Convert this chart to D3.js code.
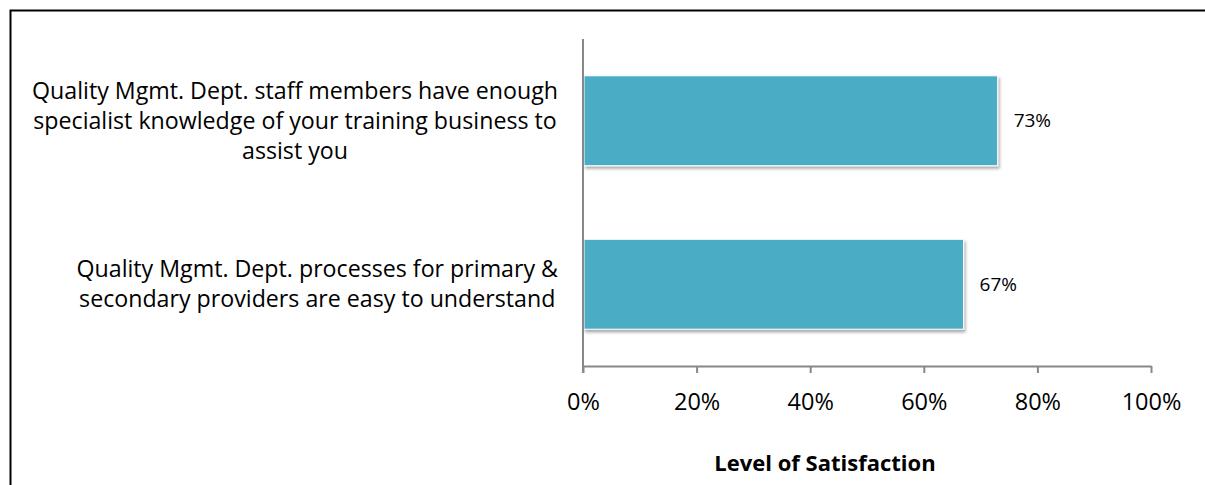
<!DOCTYPE html>
<html>
<head>
<meta charset="utf-8">
<script src="https://cdn.jsdelivr.net/npm/d3@7/dist/d3.min.js"></script>
<style>
  html, body { margin: 0; padding: 0; background: #fff; }
  svg { display: block; }
  text { font-family: "Open Sans", "Liberation Sans", sans-serif; fill: #000; }
</style>
</head>
<body>
<svg id="chart" width="1205" height="485"></svg>
<script>
// Survey statements (each entry is a list of wrapped lines)
const categories = [
  ["Quality Mgmt. Dept. staff members have enough", "specialist knowledge of your training business to", "assist you"],
  ["Quality Mgmt. Dept. processes for primary &", "secondary providers are easy to understand"]
];
// Share of respondents satisfied, percent
const satisfaction = [73, 67];
const tickValues = [0, 20, 40, 60, 80, 100];
const axisTitle = "Level of Satisfaction";

const svg = d3.select("#chart");

// outer frame
svg.append("path")
  .attr("d", "M10.5,485 L10.5,10.5 L1205,10.5")
  .attr("fill", "none").attr("stroke", "#000").attr("stroke-width", 2);

const plot = { left: 583, right: 1151, top: 39, bottom: 366 };

const x = d3.scaleLinear().domain([0, 100]).range([plot.left, plot.right]);
const y = d3.scaleBand()
  .domain(d3.range(categories.length))
  .range([plot.top, plot.bottom])
  .paddingInner(0.45).paddingOuter(0.225);

// drop shadow for bars
const defs = svg.append("defs");
const f = defs.append("filter").attr("id", "shadow")
  .attr("x", "-5%").attr("y", "-10%").attr("width", "115%").attr("height", "130%");
f.append("feDropShadow").attr("dx", 1.5).attr("dy", 2.5).attr("stdDeviation", 1.6)
  .attr("flood-color", "#000").attr("flood-opacity", 0.35);

// bars
svg.append("g").selectAll("rect")
  .data(satisfaction)
  .join("rect")
  .attr("x", x(0) + 1)
  .attr("y", (d, i) => y(i))
  .attr("width", d => x(d) - x(0) - 1)
  .attr("height", y.bandwidth())
  .attr("fill", "#4BACC6")
  .attr("stroke", "#fff").attr("stroke-width", 1)
  .attr("filter", "url(#shadow)");

// value labels
svg.append("g").selectAll("text")
  .data(satisfaction)
  .join("text")
  .attr("x", d => x(d) + 16)
  .attr("y", (d, i) => y(i) + y.bandwidth() / 2)
  .attr("dy", "0.35em")
  .attr("font-size", 19)
  .text(d => d + "%");

// x axis
const xAxis = d3.axisBottom(x)
  .tickValues(tickValues)
  .tickFormat(d => d + "%")
  .tickSize(7)
  .tickSizeOuter(0)
  .tickPadding(20);
const gx = svg.append("g")
  .attr("transform", `translate(0,${plot.bottom})`)
  .call(xAxis);
gx.select(".domain").attr("stroke", "#888").attr("stroke-width", 2);
gx.selectAll(".tick line").attr("stroke", "#888").attr("stroke-width", 2);
gx.selectAll(".tick text")
  .attr("font-size", 23.5)
  .attr("font-family", "Open Sans, Liberation Sans, sans-serif")
  .attr("fill", "#000");

// y axis line (no ticks)
svg.append("line")
  .attr("x1", plot.left).attr("x2", plot.left)
  .attr("y1", plot.top).attr("y2", plot.bottom + 7)
  .attr("stroke", "#888").attr("stroke-width", 2);

// category labels: each block centred, its widest line ending near the axis
const labelRight = 558;
const lineGap = 30;
const gl = svg.append("g");
categories.forEach((lines, i) => {
  const cy = y(i) + y.bandwidth() / 2;
  const t = gl.append("text")
    .attr("font-size", 23.2)
    .attr("text-anchor", "middle");
  lines.forEach((ln, j) => {
    t.append("tspan")
      .attr("y", cy + (j - (lines.length - 1) / 2) * lineGap)
      .attr("dy", "0.35em")
      .text(ln);
  });
  let maxW = 0;
  t.selectAll("tspan").each(function () { maxW = Math.max(maxW, this.getComputedTextLength()); });
  t.selectAll("tspan").attr("x", labelRight - maxW / 2);
});

// axis title
svg.append("text")
  .attr("x", 825)
  .attr("y", 463)
  .attr("dy", "0.35em")
  .attr("text-anchor", "middle")
  .attr("font-size", 22)
  .attr("font-weight", "bold")
  .text(axisTitle);
</script>
</body>
</html>
